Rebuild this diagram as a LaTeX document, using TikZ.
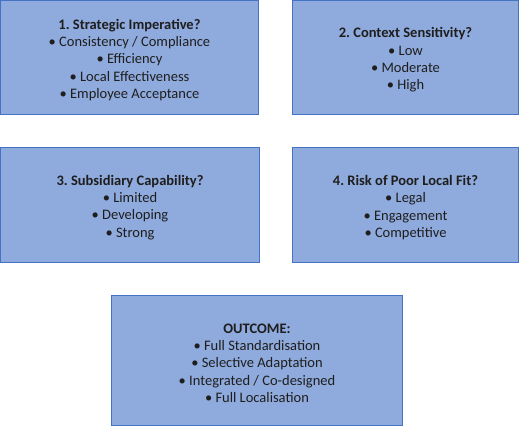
\documentclass[tikz,border=0pt]{standalone}
\usepackage{fontspec}
\setmainfont{Carlito}
\frenchspacing
\usetikzlibrary{positioning}
\colorlet{background}{white}
\definecolor{penColor}{HTML}{4472C4}
\definecolor{fill1}{HTML}{8FAADC}
\definecolor{inkColor}{HTML}{1E1E1E}
\newcommand{\toppad}{\rule{0pt}{15pt}}
\tikzset{
  askbox/.style={draw=penColor, line width=1.2pt, fill=fill1, align=center,
    text=inkColor, inner sep=0pt, font=\fontsize{14.5}{17.4}\selectfont},
}

\begin{document}
\begin{tikzpicture}[x=1pt,y=-1pt]
      \useasboundingbox[fill=background] (0,0) rectangle (520,427);
      % the four questions
      \node[askbox, minimum width=258pt, minimum height=114pt] (strategic) at (129.5,57.5)
        {\toppad\textbf{1. Strategic Imperative?}\\ • Consistency / Compliance\\ • Efficiency\\ • Local Effectiveness\\ • Employee Acceptance};
      \node[askbox, minimum width=226pt, minimum height=114pt] (context) at (405.5,57.5)
        {\toppad\textbf{2. Context Sensitivity?}\\ • Low\\ • Moderate\\ • High};
      \node[askbox, minimum width=259pt, minimum height=115pt] (capability) at (130,205)
        {\toppad\textbf{3. Subsidiary Capability?}\\ • Limited\\ • Developing\\ • Strong};
      \node[askbox, minimum width=226pt, minimum height=115pt] (risk) at (405.5,205)
        {\toppad\textbf{4. Risk of Poor Local Fit?}\\ • Legal\\ • Engagement\\ • Competitive};
      % the outcome
      \node[askbox, minimum width=291pt, minimum height=130pt] (outcome) at (257,360.5)
        {\toppad\textbf{OUTCOME:}\\ • Full Standardisation\\ • Selective Adaptation\\ • Integrated / Co-designed\\ • Full Localisation};
    \end{tikzpicture}
\end{document}
